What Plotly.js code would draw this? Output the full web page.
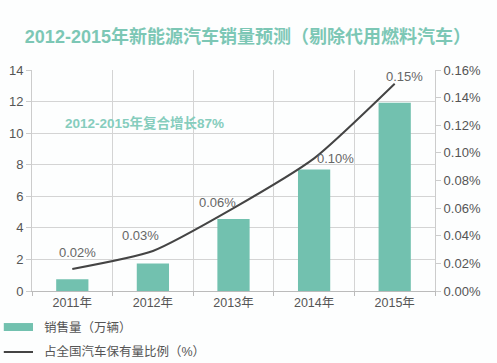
<!DOCTYPE html>
<html><head><meta charset="utf-8">
<script src="https://cdn.plot.ly/plotly-3.0.1.min.js"></script>
<style>body{margin:0;background:#fff}#c{width:497px;height:363px}</style>
</head><body><div id="c"></div>
<script>
const years = ['2011年','2012年','2013年','2014年','2015年'];
const sales = [0.75, 1.75, 4.56, 7.7, 11.93];
const share = [0.016, 0.029, 0.060, 0.096, 0.150];
const shareLabels = ['0.02%','0.03%','0.06%','0.10%','0.15%'];
const labelShiftX = [5, -12, -16, 21, 10];
const labelShiftY = [16, 15, 6, 0, 7];
const leftTicks = [0,2,4,6,8,10,12,14];
const rightTicks = [0,0.02,0.04,0.06,0.08,0.10,0.12,0.14,0.16];
const rightTickText = ['0.00%','0.02%','0.04%','0.06%','0.08%','0.10%','0.12%','0.14%','0.16%'];
const seriesNames = ['销售量（万辆）','占全国汽车保有量比例（%）'];

const FONT = 'Liberation Sans, Arial, Noto Sans CJK SC, sans-serif';
const teal = '#72c1af';
const lineColor = '#444';

const traces = [
  {type:'bar', x:years, y:sales, name:seriesNames[0], marker:{color:teal}, width:0.4, yaxis:'y', showlegend:false},
  {type:'scatter', mode:'lines', x:years, y:share, name:seriesNames[1], yaxis:'y2', showlegend:false,
   line:{color:lineColor, width:2, shape:'spline', smoothing:0.6}}
];

const ann = share.map((v,i)=>({x:years[i], y:v, xref:'x', yref:'y2', text:shareLabels[i], showarrow:false,
  xshift:labelShiftX[i], yshift:labelShiftY[i], font:{family:FONT, size:13, color:'#666'}}));
ann.push({x:0.28, y:0.76, xref:'paper', yref:'paper', xanchor:'center', yanchor:'middle', text:'2012-2015年复合增长87%', showarrow:false,
  font:{family:FONT, size:13.5, color:'#86cdbd', weight:'bold'}});
// legend texts
ann.push({x:0.025, y:-0.167, xref:'paper', yref:'paper', xanchor:'left', yanchor:'middle', showarrow:false,
  text:seriesNames[0], font:{family:FONT, size:12.5, color:'#555'}});
ann.push({x:0.025, y:-0.276, xref:'paper', yref:'paper', xanchor:'left', yanchor:'middle', showarrow:false,
  text:seriesNames[1], font:{family:FONT, size:12.5, color:'#555'}});

const shapes = [
  {type:'rect', xref:'paper', yref:'paper', x0:-0.07, x1:0.0025, y0:-0.181, y1:-0.145, fillcolor:teal, line:{width:0}},
  {type:'line', xref:'paper', yref:'paper', x0:-0.07, x1:0.0025, y0:-0.276, y1:-0.276, line:{color:lineColor, width:2}}
];

const layout = {
  width:497, height:363,
  margin:{l:32, r:62, t:70, b:72},
  paper_bgcolor:'#fdfefe', plot_bgcolor:'#fdfefe',
  font:{family:FONT, size:12, color:'#555'},
  title:{text:'<b>2012-2015年新能源汽车销量预测（剔除代用燃料汽车）</b>', x:0.05, xanchor:'left', y:0.9, yanchor:'middle',
    font:{family:FONT, size:18, color:'#7cc7b5'}},
  xaxis:{type:'category', tickson:'boundaries', showgrid:true, gridcolor:'#d4d4d4', ticks:'outside', ticklen:4, tickcolor:'#bbb',
    showline:true, linecolor:'#bbb', tickfont:{size:12.5, color:'#555'}, automargin:false},
  yaxis:{range:[0,14], tickvals:leftTicks, showgrid:true, gridcolor:'#d4d4d4', zeroline:false, showline:true, linecolor:'#ccc',
    ticks:'outside', ticklen:5, tickcolor:'#ccc', tickfont:{size:13, color:'#555'}, automargin:false},
  yaxis2:{overlaying:'y', side:'right', range:[0,0.16], tickvals:rightTicks, ticktext:rightTickText, showgrid:false, zeroline:false,
    showline:true, linecolor:'#ccc', ticks:'outside', ticklen:5, tickcolor:'#ccc', tickfont:{size:13, color:'#555'}, automargin:false},
  showlegend:false,
  annotations:ann,
  shapes:shapes
};
Plotly.newPlot('c', traces, layout, {displayModeBar:false, staticPlot:true});
</script></body></html>
